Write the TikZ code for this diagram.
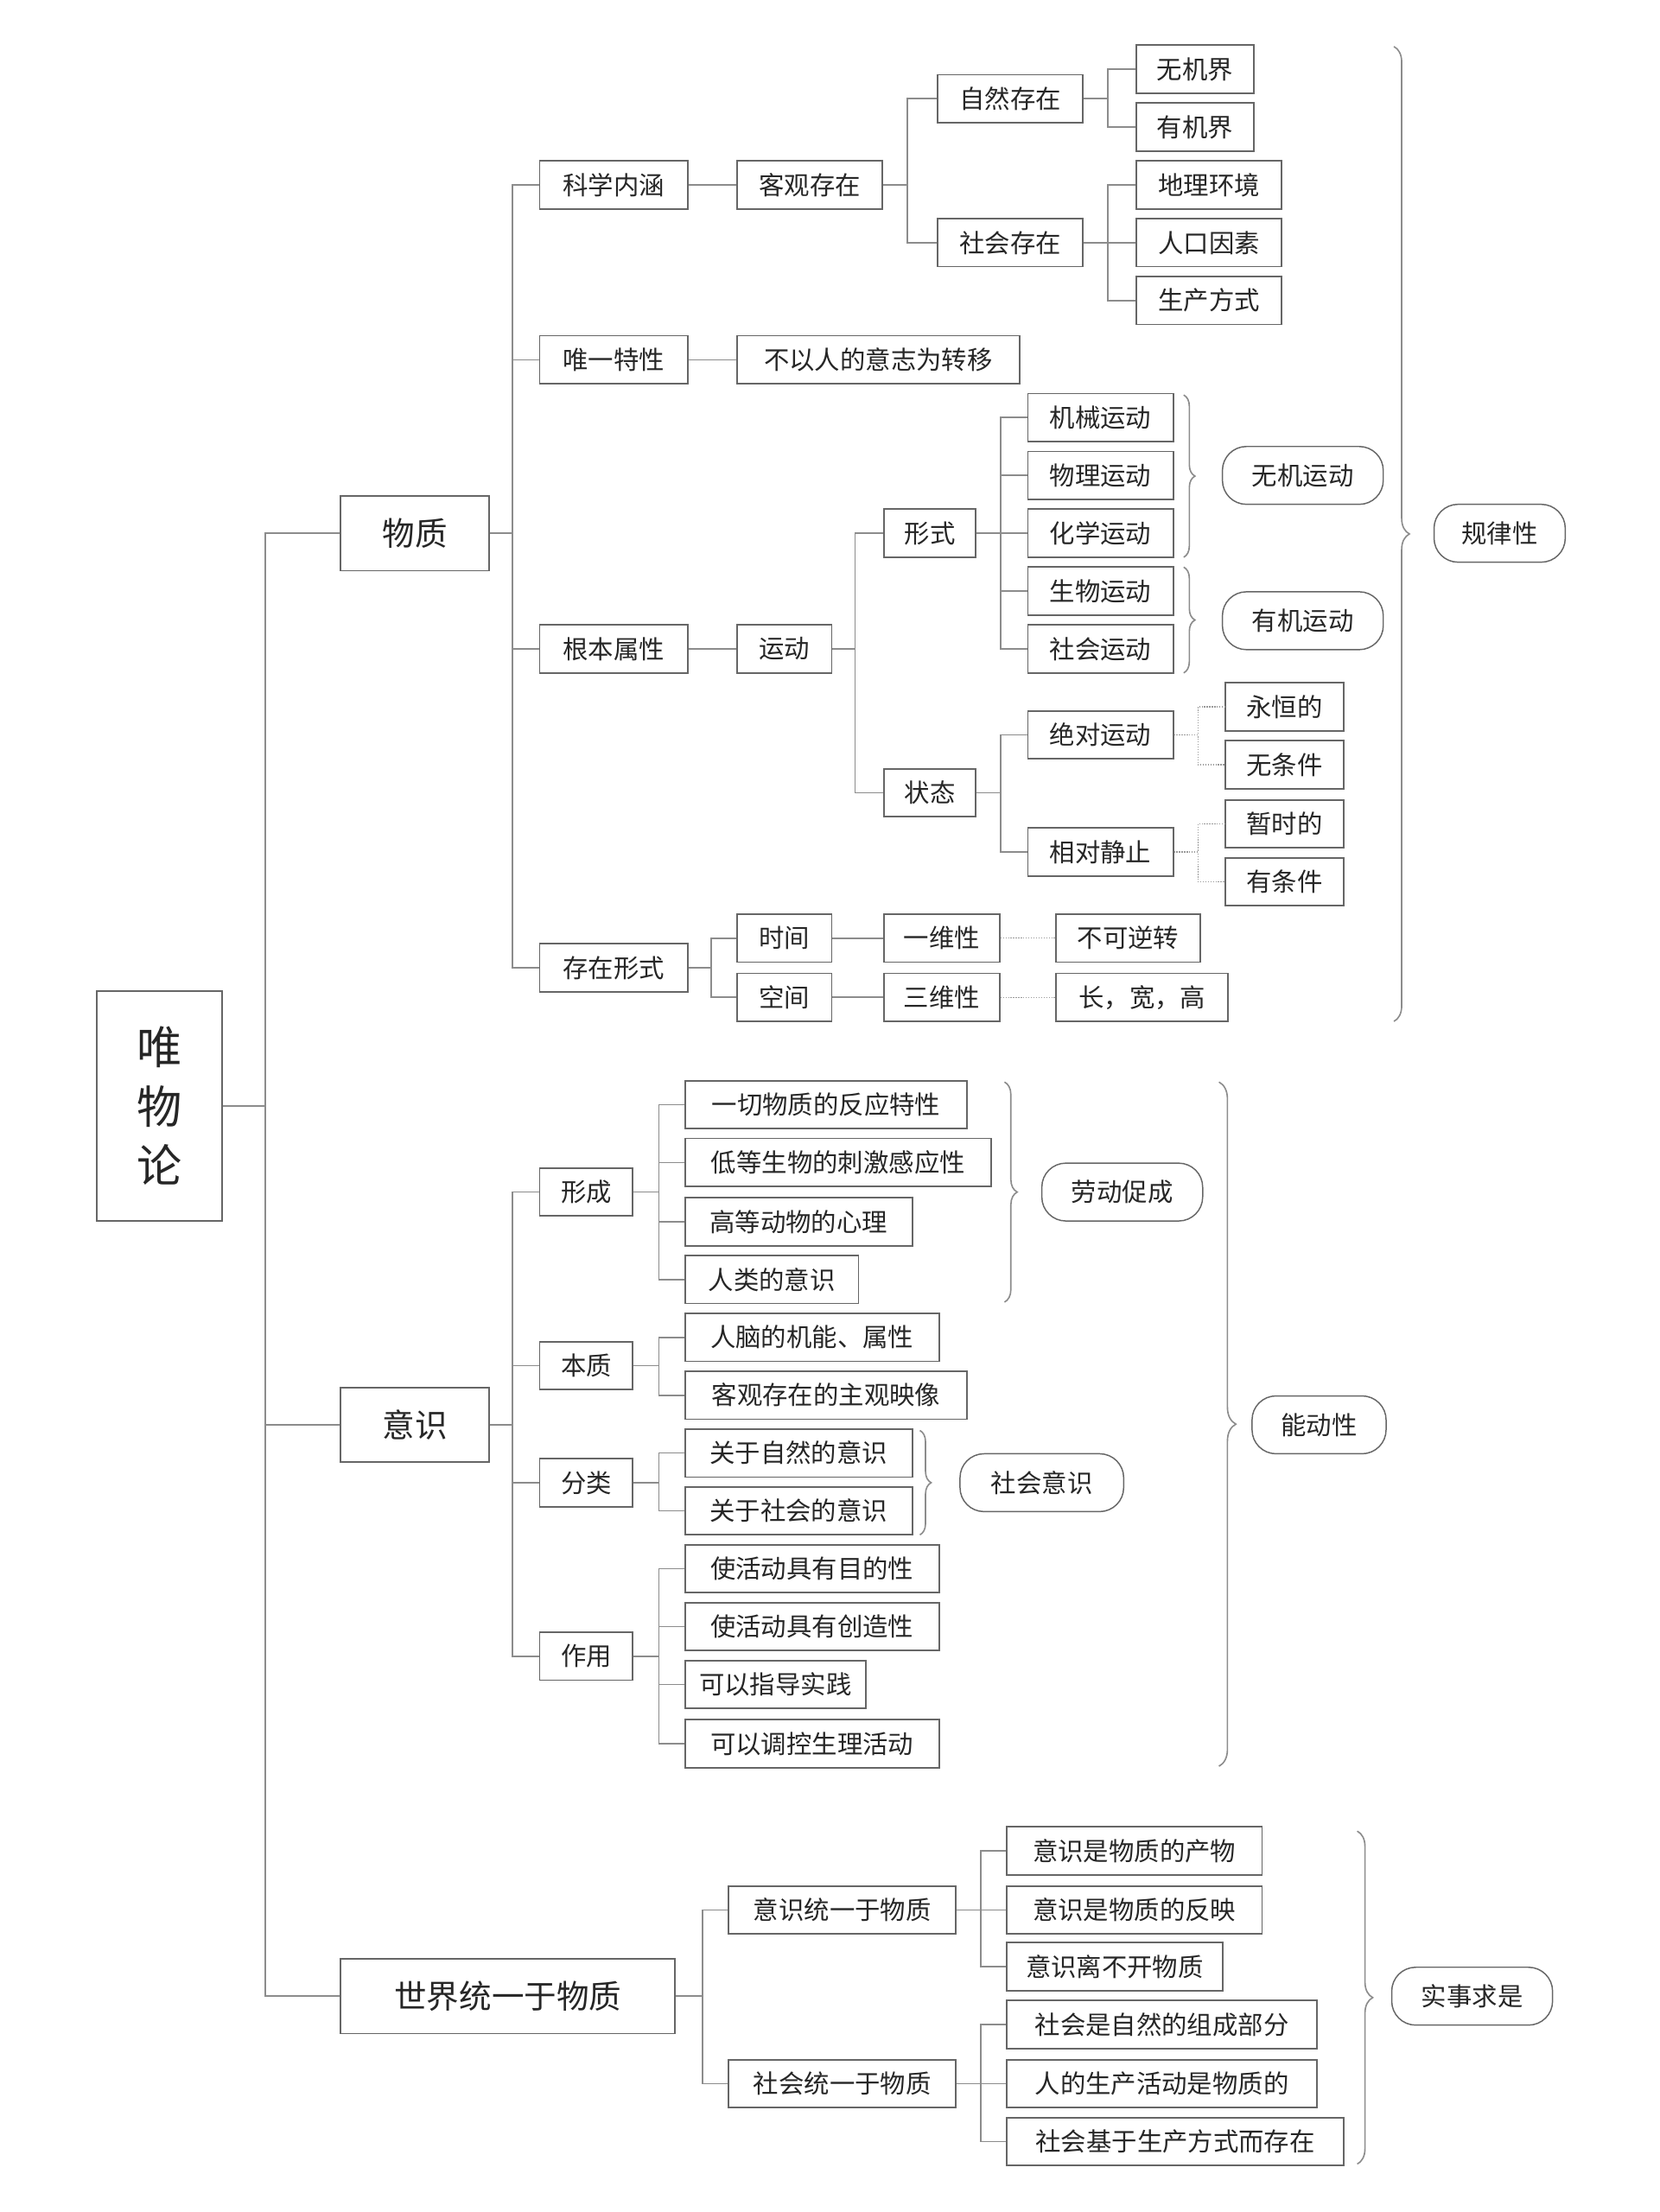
\documentclass[tikz,border=0pt]{standalone}
\usepackage{fontspec}
\newfontfamily\cjk{Noto Sans CJK SC}
\usepackage{tikz}
\usetikzlibrary{decorations.pathreplacing}

\begin{document}
\begin{tikzpicture}[
  x=1pt, y=-1pt,
  every node/.style={font=\cjk\fontsize{18}{20}\selectfont, text=black!85},
  box/.style={rectangle, draw=black!60, line width=1.1pt, anchor=west,
              inner sep=0pt, minimum height=34pt, minimum width=#1pt},
  big/.style={box=#1, minimum height=53pt, font=\cjk\fontsize{23}{26}\selectfont},
  pill/.style={rectangle, rounded corners=17pt, draw=black!60, line width=0.9pt,
               anchor=west, inner sep=0pt, minimum height=41pt, minimum width=#1pt},
  link/.style={draw=black!45, line width=1pt},
  dlink/.style={draw=black!40, line width=0.8pt, densely dotted},
  brc/.style={draw=black!45, line width=1pt, decorate,
              decoration={brace, amplitude=#1pt}}
]
  \fill[white] (0,0) rectangle (1176,1568);
  \useasboundingbox (0,0) rectangle (1176,1568);

  % root and first level
  \node[draw=black!60, line width=1.1pt, anchor=west, inner sep=0pt,
        minimum width=89pt, minimum height=163pt, align=center,
        font=\cjk\fontsize{32}{42}\selectfont] (wwl) at (68,784) {唯\\物\\论};
  \node[big=105] (wz)   at (241,378)  {物质};
  \node[big=105] (ys)   at (241,1010) {意识};
  \node[big=237] (sjty) at (241,1415) {世界统一于物质};

  % 物质
  \node[box=105] (kxnh) at (382,131) {科学内涵};
  \node[box=105] (wytx) at (382,255) {唯一特性};
  \node[box=105] (gbsx) at (382,460) {根本属性};
  \node[box=105] (czxs) at (382,686) {存在形式};
  \node[box=103] (kgcz) at (522,131) {客观存在};
  \node[box=200] (byrd) at (522,255) {不以人的意志为转移};
  \node[box=67]  (yd)   at (522,460) {运动};
  \node[box=67]  (sj)   at (522,665) {时间};
  \node[box=67]  (kj)   at (522,707) {空间};
  \node[box=103] (zrcz) at (664,70)  {自然存在};
  \node[box=103] (shcz) at (664,172) {社会存在};
  \node[box=83]  (wjj)  at (805,49)  {无机界};
  \node[box=83]  (yjj)  at (805,90)  {有机界};
  \node[box=103] (dlhj) at (805,131) {地理环境};
  \node[box=103] (rkys) at (805,172) {人口因素};
  \node[box=103] (scfs) at (805,213) {生产方式};
  \node[box=65]  (xs)   at (626,378) {形式};
  \node[box=65]  (zt)   at (626,562) {状态};
  \node[box=103] (jxyd) at (728,296) {机械运动};
  \node[box=103] (wlyd) at (728,337) {物理运动};
  \node[box=103] (hxyd) at (728,378) {化学运动};
  \node[box=103] (swyd) at (728,419) {生物运动};
  \node[box=103] (shyd) at (728,460) {社会运动};
  \node[box=103] (jdyd) at (728,521) {绝对运动};
  \node[box=103] (xdjz) at (728,604) {相对静止};
  \node[box=84]  (yhd)  at (868,501) {永恒的};
  \node[box=84]  (wtj)  at (868,542) {无条件};
  \node[box=84]  (zsd)  at (868,584) {暂时的};
  \node[box=84]  (ytj)  at (868,625) {有条件};
  \node[box=82]  (ywx)  at (626,665) {一维性};
  \node[box=82]  (swx)  at (626,707) {三维性};
  \node[box=102] (bkn)  at (748,665) {不可逆转};
  \node[box=122] (ckg)  at (748,707) {长，宽，高};
  \node[pill=114] (wjyd) at (866,337)  {无机运动};
  \node[pill=114] (yjyd) at (866,440)  {有机运动};
  \node[pill=93]  (glx)  at (1016,378) {规律性};

  % 意识
  \node[box=66]  (xc)   at (382,845)  {形成};
  \node[box=66]  (bz)   at (382,968)  {本质};
  \node[box=66]  (fl)   at (382,1051) {分类};
  \node[box=66]  (zy)   at (382,1174) {作用};
  \node[box=200] (ycwz) at (485,783)  {一切物质的反应特性};
  \node[box=217] (ddsw) at (485,824)  {低等生物的刺激感应性};
  \node[box=161] (gddw) at (485,866)  {高等动物的心理};
  \node[box=123] (rlys) at (485,907)  {人类的意识};
  \node[box=180] (rnjn) at (485,948)  {人脑的机能、属性};
  \node[box=200] (kgyx) at (485,989)  {客观存在的主观映像};
  \node[box=161] (gyzr) at (485,1030) {关于自然的意识};
  \node[box=161] (gysh) at (485,1071) {关于社会的意识};
  \node[box=180] (mdx)  at (485,1112) {使活动具有目的性};
  \node[box=180] (czx)  at (485,1153) {使活动具有创造性};
  \node[box=128] (zdsj) at (485,1194) {可以指导实践};
  \node[box=180] (tksl) at (485,1236) {可以调控生理活动};
  \node[pill=114] (ldcc) at (738,845)  {劳动促成};
  \node[pill=116] (shys) at (680,1051) {社会意识};
  \node[pill=95]  (ndx)  at (887,1010) {能动性};

  % 世界统一于物质
  \node[box=161] (ystw) at (516,1354) {意识统一于物质};
  \node[box=161] (shtw) at (516,1477) {社会统一于物质};
  \node[box=181] (cw)   at (713,1312) {意识是物质的产物};
  \node[box=181] (fy)   at (713,1354) {意识是物质的反映};
  \node[box=153] (lbk)  at (713,1394) {意识离不开物质};
  \node[box=220] (zczb) at (713,1435) {社会是自然的组成部分};
  \node[box=220] (scsh) at (713,1477) {人的生产活动是物质的};
  \node[box=239] (jysc) at (713,1518) {社会基于生产方式而存在};
  \node[pill=114] (ssqs) at (986,1415) {实事求是};

  % brace ends
  \coordinate (glt) at (988,33);   \coordinate (glb) at (988,724);
  \coordinate (wjt) at (839,280);  \coordinate (wjb) at (839,395);
  \coordinate (yjt) at (839,402);  \coordinate (yjb) at (839,477);
  \coordinate (ldt) at (712,767);  \coordinate (ldb) at (712,923);
  \coordinate (sht) at (652,1014); \coordinate (shb) at (652,1088);
  \coordinate (ndt) at (864,767);  \coordinate (ndb) at (864,1252);
  \coordinate (sst) at (962,1298); \coordinate (ssb) at (962,1534);

  \draw[link] (wwl.east) -- ++(30,0) |- (wz.west);
  \draw[link] (wwl.east) -- ++(30,0) |- (ys.west);
  \draw[link] (wwl.east) -- ++(30,0) |- (sjty.west);

  \draw[link] (wz.east) -- ++(16,0) |- (kxnh.west);
  \draw[link] (wz.east) -- ++(16,0) |- (wytx.west);
  \draw[link] (wz.east) -- ++(16,0) |- (gbsx.west);
  \draw[link] (wz.east) -- ++(16,0) |- (czxs.west);
  \draw[link] (kxnh) -- (kgcz);
  \draw[link] (wytx) -- (byrd);
  \draw[link] (gbsx) -- (yd);
  \draw[link] (czxs.east) -- ++(16,0) |- (sj.west);
  \draw[link] (czxs.east) -- ++(16,0) |- (kj.west);
  \draw[link] (kgcz.east) -- ++(17,0) |- (zrcz.west);
  \draw[link] (kgcz.east) -- ++(17,0) |- (shcz.west);
  \draw[link] (zrcz.east) -- ++(17,0) |- (wjj.west);
  \draw[link] (zrcz.east) -- ++(17,0) |- (yjj.west);
  \draw[link] (shcz.east) -- ++(17,0) |- (dlhj.west);
  \draw[link] (shcz.east) -- ++(17,0) |- (rkys.west);
  \draw[link] (shcz.east) -- ++(17,0) |- (scfs.west);
  \draw[link] (yd.east) -- ++(16,0) |- (xs.west);
  \draw[link] (yd.east) -- ++(16,0) |- (zt.west);
  \draw[link] (xs.east) -- ++(17,0) |- (jxyd.west);
  \draw[link] (xs.east) -- ++(17,0) |- (wlyd.west);
  \draw[link] (xs.east) -- ++(17,0) |- (hxyd.west);
  \draw[link] (xs.east) -- ++(17,0) |- (swyd.west);
  \draw[link] (xs.east) -- ++(17,0) |- (shyd.west);
  \draw[link] (zt.east) -- ++(17,0) |- (jdyd.west);
  \draw[link] (zt.east) -- ++(17,0) |- (xdjz.west);
  \draw[dlink] (jdyd.east) -- ++(17,0) |- (yhd.west);
  \draw[dlink] (jdyd.east) -- ++(17,0) |- (wtj.west);
  \draw[dlink] (xdjz.east) -- ++(17,0) |- (zsd.west);
  \draw[dlink] (xdjz.east) -- ++(17,0) |- (ytj.west);
  \draw[link] (sj) -- (ywx);
  \draw[link] (kj) -- (swx);
  \draw[dlink] (ywx) -- (bkn);
  \draw[dlink] (swx) -- (ckg);

  \draw[link] (ys.east) -- ++(16,0) |- (xc.west);
  \draw[link] (ys.east) -- ++(16,0) |- (bz.west);
  \draw[link] (ys.east) -- ++(16,0) |- (fl.west);
  \draw[link] (ys.east) -- ++(16,0) |- (zy.west);
  \draw[link] (xc.east) -- ++(18,0) |- (ycwz.west);
  \draw[link] (xc.east) -- ++(18,0) |- (ddsw.west);
  \draw[link] (xc.east) -- ++(18,0) |- (gddw.west);
  \draw[link] (xc.east) -- ++(18,0) |- (rlys.west);
  \draw[link] (bz.east) -- ++(18,0) |- (rnjn.west);
  \draw[link] (bz.east) -- ++(18,0) |- (kgyx.west);
  \draw[link] (fl.east) -- ++(18,0) |- (gyzr.west);
  \draw[link] (fl.east) -- ++(18,0) |- (gysh.west);
  \draw[link] (zy.east) -- ++(18,0) |- (mdx.west);
  \draw[link] (zy.east) -- ++(18,0) |- (czx.west);
  \draw[link] (zy.east) -- ++(18,0) |- (zdsj.west);
  \draw[link] (zy.east) -- ++(18,0) |- (tksl.west);

  \draw[link] (sjty.east) -- ++(19,0) |- (ystw.west);
  \draw[link] (sjty.east) -- ++(19,0) |- (shtw.west);
  \draw[link] (ystw.east) -- ++(17,0) |- (cw.west);
  \draw[link] (ystw.east) -- ++(17,0) |- (fy.west);
  \draw[link] (ystw.east) -- ++(17,0) |- (lbk.west);
  \draw[link] (shtw.east) -- ++(17,0) |- (zczb.west);
  \draw[link] (shtw.east) -- ++(17,0) |- (scsh.west);
  \draw[link] (shtw.east) -- ++(17,0) |- (jysc.west);

  \draw[brc=11] (glt) -- (glb);
  \draw[brc=8]  (wjt) -- (wjb);
  \draw[brc=8]  (yjt) -- (yjb);
  \draw[brc=9]  (ldt) -- (ldb);
  \draw[brc=8]  (sht) -- (shb);
  \draw[brc=12] (ndt) -- (ndb);
  \draw[brc=11] (sst) -- (ssb);
\end{tikzpicture}
\end{document}
